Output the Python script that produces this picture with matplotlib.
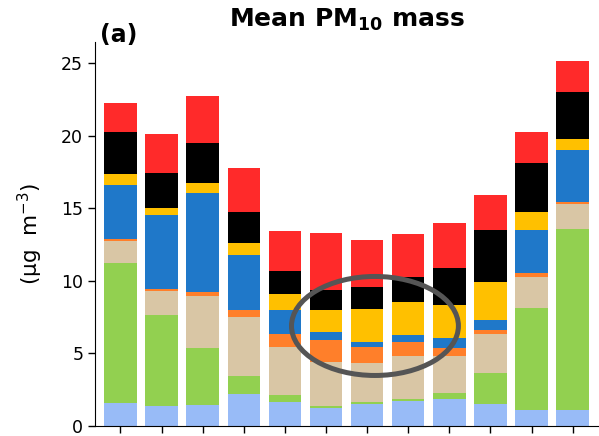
import numpy as np
import matplotlib.pyplot as plt
from matplotlib.patches import Ellipse

months = np.arange(12)

# segment heights per month, bottom to top (ug m-3)
light_blue = [1.56, 1.40, 1.45, 2.18, 1.68, 1.22, 1.52, 1.72, 1.86, 1.52, 1.10, 1.10]
green = [9.69, 6.24, 3.94, 1.26, 0.45, 0.16, 0.13, 0.14, 0.44, 2.15, 7.05, 12.47]
tan = [1.49, 1.68, 3.56, 4.09, 3.33, 3.01, 2.67, 2.98, 2.54, 2.67, 2.13, 1.72]
orange = [0.16, 0.11, 0.28, 0.48, 0.88, 1.53, 1.14, 0.97, 0.51, 0.27, 0.23, 0.14]
blue = [3.72, 5.12, 6.80, 3.77, 1.65, 0.53, 0.35, 0.46, 0.69, 0.69, 2.99, 3.58]
yellow = [0.71, 0.46, 0.73, 0.85, 1.08, 1.54, 2.25, 2.27, 2.29, 2.64, 1.26, 0.76]
black = [2.92, 2.44, 2.71, 2.13, 1.63, 1.38, 1.49, 1.74, 2.53, 3.56, 3.33, 3.21]
red = [2.02, 2.64, 3.28, 3.01, 2.73, 3.94, 3.26, 2.94, 3.10, 2.41, 2.13, 2.18]

layers = [light_blue, green, tan, orange, blue, yellow, black, red]
colors = ['#98BBF7', '#92D050', '#D9C6A5', '#FF7F2A', '#1F78C9', '#FFC000', '#000000', '#FF2A2A']

fig = plt.figure(figsize=(5.99, 4.36), dpi=100)
ax = fig.add_axes([95 / 599, 10 / 436, 504 / 599, 384.3 / 436])

bottom = np.zeros(12)
for vals, c in zip(layers, colors):
    ax.bar(months, vals, width=0.79, bottom=bottom, color=c, linewidth=0)
    bottom += np.array(vals)

# highlight the summer minimum
ax.add_patch(Ellipse((6.19, 6.89), 4.06, 6.82, fill=False,
                     edgecolor='#555555', linewidth=3.6, zorder=5))

ax.set_xlim(-0.62, 11.64)
ax.set_ylim(0, 26.47)
ax.set_xticks(months)
ax.set_xticklabels([])
ax.set_yticks([0, 5, 10, 15, 20, 25])
ax.tick_params(axis='both', labelsize=12.5, length=5, width=1)
ax.spines['top'].set_visible(False)
ax.spines['right'].set_visible(False)

ax.set_ylabel(r'($\mathregular{\mu}$g  m$^{-3}$)', fontsize=15.5)
ax.yaxis.set_label_coords(-0.10, 0.5)

fig.text(347 / 599, 1 - 20 / 436, r'Mean PM$_{\mathbf{10}}$ mass', fontsize=18,
         fontweight='bold', ha='center', va='center')
fig.text(100 / 599, 1 - 35 / 436, '(a)', fontsize=17, fontweight='bold',
         ha='left', va='center')

fig.savefig('out.png', dpi=100)
